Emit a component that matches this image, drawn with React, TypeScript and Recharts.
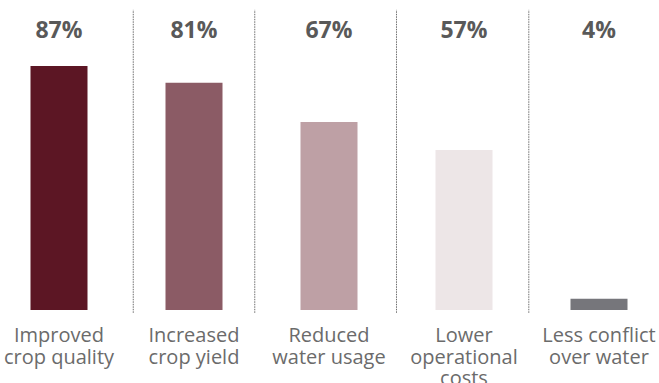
import { BarChart, Bar, XAxis, YAxis, Cell, LabelList, ReferenceLine } from 'recharts';

const categories = [
    'Improved crop quality',
    'Increased crop yield',
    'Reduced water usage',
    'Lower operational costs',
    'Less conflict over water',
];
const tickLines = [
    ['Improved', 'crop quality'],
    ['Increased', 'crop yield'],
    ['Reduced', 'water usage'],
    ['Lower', 'operational', 'costs'],
    ['Less conflict', 'over water'],
];
const shares = [87, 81, 67, 57, 4];
const barColors = ['#5c1624', '#8b5b65', '#bea0a5', '#ede6e7', '#76767b'];
// separator positions, in column units (0 = first column centre)
const dividers = [0.55, 1.45, 2.5, 3.48];

const data = categories.map((name, i) => ({ name, pos: i, share: shares[i] }));

const FONT = '"Open Sans", "Segoe UI", sans-serif';

function CategoryTick({ x, y, payload }: any) {
    const lines = tickLines[payload.index] || [payload.value];
    return (
        <text x={x} y={y} textAnchor="middle" fill="#6b6b6b" fontSize={20} fontFamily={FONT}>
            {lines.map((line: string, i: number) => (
                <tspan key={i} x={x} dy={i === 0 ? 32 : 21.5}>
                    {line}
                </tspan>
            ))}
        </text>
    );
}

function ValueLabel({ x, width, value }: any) {
    return (
        <text
            x={x + width / 2}
            y={38}
            textAnchor="middle"
            fill="#595959"
            fontSize={23}
            fontWeight={700}
            fontFamily={FONT}
        >
            {value}%
        </text>
    );
}

export default function App() {
    return (
        <div style={{ position: 'fixed', left: 0, top: 0, width: 659, height: 383, overflow: 'hidden', background: '#fff' }}>
            <BarChart
                width={659}
                height={383}
                data={data}
                margin={{ top: 29.5, right: -7.5, bottom: 0, left: -8.5 }}
            >
                <XAxis
                    xAxisId="cat"
                    dataKey="name"
                    axisLine={false}
                    tickLine={false}
                    tickSize={0}
                    tickMargin={0}
                    height={73}
                    interval={0}
                    tick={<CategoryTick />}
                />
                <XAxis xAxisId="sep" dataKey="pos" type="number" domain={[-0.5, 4.5]} hide allowDataOverflow />
                <YAxis domain={[0, 100]} hide allowDataOverflow />
                {dividers.map((v) => (
                    <ReferenceLine
                        key={v}
                        xAxisId="sep"
                        segment={[{ x: v, y: -1 }, { x: v, y: 107 }]}
                        ifOverflow="visible"
                        stroke="#6e6e6e"
                        strokeWidth={1}
                        strokeDasharray="1.5 1"
                    />
                ))}
                <Bar xAxisId="cat" dataKey="share" barSize={57} isAnimationActive={false}>
                    {data.map((d, i) => (
                        <Cell key={d.name} fill={barColors[i]} />
                    ))}
                    <LabelList dataKey="share" content={<ValueLabel />} />
                </Bar>
            </BarChart>
        </div>
    );
}
